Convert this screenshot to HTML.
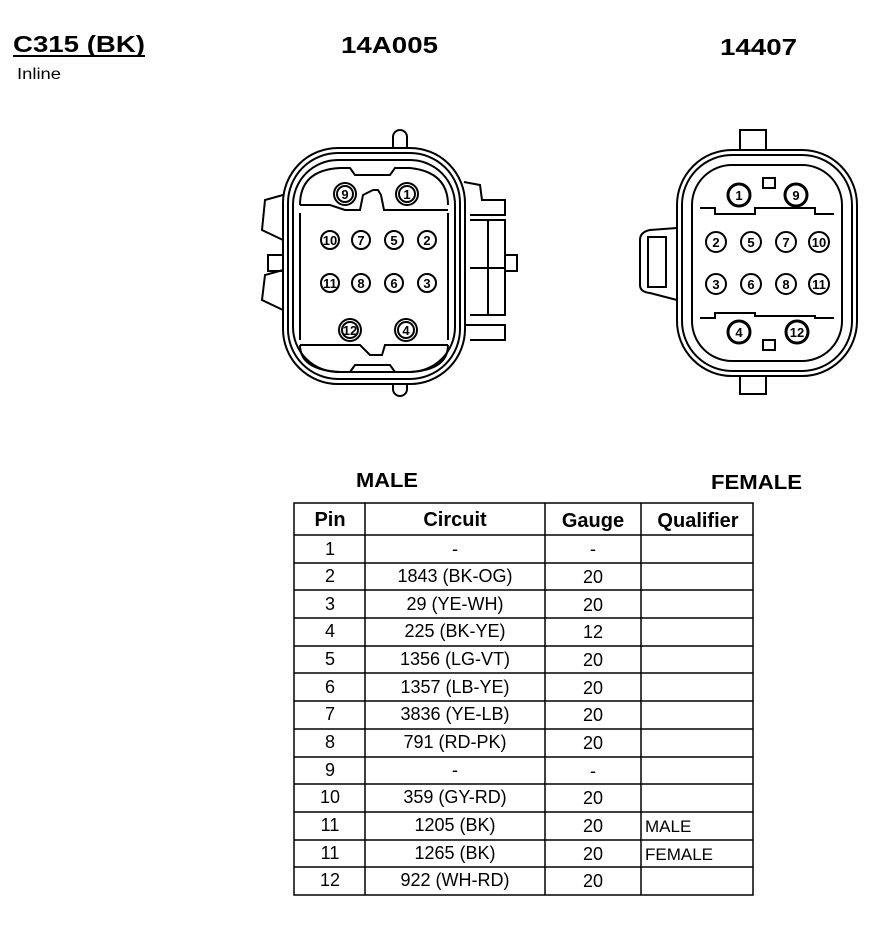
<!DOCTYPE html>
<html><head><style>
body{margin:0;background:#fff;width:894px;height:944px;overflow:hidden;font-family:"Liberation Sans",Arial,sans-serif}
</style></head><body>
<svg width="894" height="944" viewBox="0 0 894 944" xmlns="http://www.w3.org/2000/svg" font-family="Liberation Sans, Arial, sans-serif">
<text x="13" y="52" font-size="23" font-weight="bold" textLength="132" lengthAdjust="spacingAndGlyphs">C315 (BK)</text>
<line x1="13" y1="56" x2="145" y2="56" stroke="#000" stroke-width="2"/>
<text x="17" y="79" font-size="16" textLength="44" lengthAdjust="spacingAndGlyphs">Inline</text>
<text x="341" y="53" font-size="23" font-weight="bold" textLength="97" lengthAdjust="spacingAndGlyphs">14A005</text>
<text x="720" y="55" font-size="23" font-weight="bold" textLength="77" lengthAdjust="spacingAndGlyphs">14407</text>

<!-- Left connector -->
<g fill="none" stroke="#000" stroke-width="2">
<rect x="393" y="130" width="14" height="30" rx="7" fill="#fff"/>
<rect x="393" y="368" width="14" height="28" rx="7" fill="#fff"/>
<path d="M283 195 L265 200 L262 230 L283 240"/>
<path d="M283 270 L265 275 L262 300 L283 310"/>
<rect x="268" y="255" width="18" height="16"/>
<path d="M464 182 L480 185 L482 200 L505 200 L505 215 L470 215"/>
<path d="M470 220 L505 220 L505 315 L470 315"/>
<path d="M488 220 L488 315 M470 268 L505 268"/>
<rect x="505" y="255" width="12" height="16"/>
<path d="M464 325 L505 325 L505 340 L470 340"/>
<rect x="283" y="148" width="182" height="236" rx="55" fill="#fff"/>
<rect x="288" y="153" width="172" height="226" rx="50"/>
<rect x="293" y="160" width="162" height="212" rx="45"/>
<path d="M300 213 L300 340 M448 213 L448 340"/>
<path d="M300 205 L330 205 L330 205 L345 210 L360 210 L363 195 L373 190 L378 190 L381 195 L384 210 L448 210"/>
<path d="M300 205 Q300 170 340 168 L350 168 L355 175 L390 175 L395 168 L410 168 Q448 172 448 205"/>
<path d="M300 345 L360 345 L370 355 L382 355 L385 345 L448 345"/>
<path d="M300 345 Q300 370 340 372 L350 372 L355 365 L390 365 L395 372 L410 372 Q448 370 448 345"/>
</g>
<g font-size="13" font-weight="bold" text-anchor="middle">
<g fill="#fff" stroke="#000" stroke-width="2">
<circle cx="345" cy="194" r="11"/><circle cx="345" cy="194" r="8"/>
<circle cx="407" cy="194" r="11"/><circle cx="407" cy="194" r="8"/>
<circle cx="350" cy="330" r="11"/><circle cx="350" cy="330" r="8"/>
<circle cx="406" cy="330" r="11"/><circle cx="406" cy="330" r="8"/>
<circle cx="330" cy="240" r="9"/><circle cx="361" cy="240" r="9"/><circle cx="394" cy="240" r="9"/><circle cx="427" cy="240" r="9"/>
<circle cx="330" cy="283" r="9"/><circle cx="361" cy="283" r="9"/><circle cx="394" cy="283" r="9"/><circle cx="427" cy="283" r="9"/>
</g>
<text x="345" y="199">9</text><text x="407" y="199">1</text><text x="350" y="335">12</text><text x="406" y="335">4</text>
<text x="330" y="245">10</text><text x="361" y="245">7</text><text x="394" y="245">5</text><text x="427" y="245">2</text>
<text x="330" y="288">11</text><text x="361" y="288">8</text><text x="394" y="288">6</text><text x="427" y="288">3</text>
</g>

<!-- Right connector -->
<g fill="none" stroke="#000" stroke-width="2">
<path d="M677 228 L650 230 Q640 232 640 240 L640 285 Q640 292 650 293 L677 300"/>
<rect x="648" y="237" width="18" height="50"/>
<path d="M740 150 L740 130 L766 130 L766 150"/>
<path d="M740 375 L740 394 L766 394 L766 375"/>
<rect x="677" y="150" width="180" height="226" rx="55" fill="#fff"/>
<rect x="682" y="155" width="170" height="216" rx="50"/>
<rect x="692" y="165" width="150" height="196" rx="40"/>
<rect x="763" y="178" width="12" height="10"/>
<rect x="763" y="340" width="12" height="10"/>
<path d="M700 208 L715 208 L715 214 L755 214 L755 208 L790 208 L815 208 L815 214 L834 214"/>
<path d="M700 318 L715 318 L715 313 L755 313 L755 316 L815 316 L815 318 L834 318"/>
</g>
<g font-size="13" font-weight="bold" text-anchor="middle">
<g fill="#fff" stroke="#000" stroke-width="2">
<circle cx="739" cy="195" r="11" stroke-width="3"/><circle cx="796" cy="195" r="11" stroke-width="3"/>
<circle cx="739" cy="332" r="11" stroke-width="3"/><circle cx="797" cy="332" r="11" stroke-width="3"/>
<circle cx="716" cy="242" r="10"/><circle cx="751" cy="242" r="10"/><circle cx="786" cy="242" r="10"/><circle cx="819" cy="242" r="10"/>
<circle cx="716" cy="284" r="10"/><circle cx="751" cy="284" r="10"/><circle cx="786" cy="284" r="10"/><circle cx="819" cy="284" r="10"/>
</g>
<text x="739" y="200">1</text><text x="796" y="200">9</text><text x="739" y="337">4</text><text x="797" y="337">12</text>
<text x="716" y="247">2</text><text x="751" y="247">5</text><text x="786" y="247">7</text><text x="819" y="247">10</text>
<text x="716" y="289">3</text><text x="751" y="289">6</text><text x="786" y="289">8</text><text x="819" y="289">11</text>
</g>

<text x="356" y="487" font-size="20" font-weight="bold" textLength="62" lengthAdjust="spacingAndGlyphs">MALE</text>
<text x="711" y="489" font-size="20" font-weight="bold" textLength="91" lengthAdjust="spacingAndGlyphs">FEMALE</text>

<!-- Table -->
<g stroke="#000" stroke-width="1.5" fill="none">
<rect x="294" y="503" width="459" height="392"/>
<line x1="365" y1="503" x2="365" y2="895"/>
<line x1="545" y1="503" x2="545" y2="895"/>
<line x1="641" y1="503" x2="641" y2="895"/>
<line x1="294" y1="535" x2="753" y2="535"/>
<line x1="294" y1="563" x2="753" y2="563"/>
<line x1="294" y1="590" x2="753" y2="590"/>
<line x1="294" y1="618" x2="753" y2="618"/>
<line x1="294" y1="646" x2="753" y2="646"/>
<line x1="294" y1="673" x2="753" y2="673"/>
<line x1="294" y1="701" x2="753" y2="701"/>
<line x1="294" y1="729" x2="753" y2="729"/>
<line x1="294" y1="757" x2="753" y2="757"/>
<line x1="294" y1="784" x2="753" y2="784"/>
<line x1="294" y1="812" x2="753" y2="812"/>
<line x1="294" y1="840" x2="753" y2="840"/>
<line x1="294" y1="867" x2="753" y2="867"/>
</g>
<g font-size="20" font-weight="bold" text-anchor="middle">
<text x="330" y="526">Pin</text><text x="455" y="526">Circuit</text><text x="593" y="527">Gauge</text><text x="698" y="527">Qualifier</text>
</g>
<g font-size="18" text-anchor="middle">
<text x="330" y="555">1</text><text x="455" y="555">-</text><text x="593" y="555">-</text>
<text x="330" y="582">2</text><text x="455" y="582">1843 (BK-OG)</text><text x="593" y="583">20</text>
<text x="330" y="610">3</text><text x="455" y="610">29 (YE-WH)</text><text x="593" y="611">20</text>
<text x="330" y="637">4</text><text x="455" y="637">225 (BK-YE)</text><text x="593" y="638">12</text>
<text x="330" y="665">5</text><text x="455" y="665">1356 (LG-VT)</text><text x="593" y="666">20</text>
<text x="330" y="693">6</text><text x="455" y="693">1357 (LB-YE)</text><text x="593" y="694">20</text>
<text x="330" y="720">7</text><text x="455" y="720">3836 (YE-LB)</text><text x="593" y="721">20</text>
<text x="330" y="748">8</text><text x="455" y="748">791 (RD-PK)</text><text x="593" y="749">20</text>
<text x="330" y="776">9</text><text x="455" y="776">-</text><text x="593" y="777">-</text>
<text x="330" y="803">10</text><text x="455" y="803">359 (GY-RD)</text><text x="593" y="804">20</text>
<text x="330" y="831">11</text><text x="455" y="831">1205 (BK)</text><text x="593" y="832">20</text>
<text x="330" y="859">11</text><text x="455" y="859">1265 (BK)</text><text x="593" y="860">20</text>
<text x="330" y="886">12</text><text x="455" y="886">922 (WH-RD)</text><text x="593" y="887">20</text>
</g>
<g font-size="17">
<text x="645" y="832">MALE</text><text x="645" y="860">FEMALE</text>
</g>
</svg>
</body></html>
